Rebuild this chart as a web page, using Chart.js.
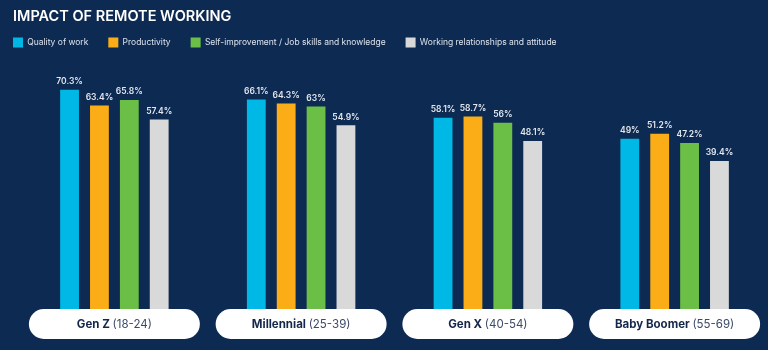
<!DOCTYPE html>
<html>
<head>
<meta charset="utf-8">
<script src="https://cdn.jsdelivr.net/npm/chart.js@4.4.1/dist/chart.umd.min.js"></script>
<style>
  html, body { margin: 0; padding: 0; background: #0d2a52; }
  #wrap { width: 768px; height: 350px; position: relative; }
</style>
</head>
<body>
<div id="wrap"><canvas id="chart"></canvas></div>
<script>
const groupNames = ['Gen Z', 'Millennial', 'Gen X', 'Baby Boomer'];
const ageRanges = ['(18-24)', '(25-39)', '(40-54)', '(55-69)'];

const seriesNames = ['Quality of work', 'Productivity', 'Self-improvement / Job skills and knowledge', 'Working relationships and attitude'];
const qualityOfWork = [70.3, 66.1, 58.1, 49];
const productivity = [63.4, 64.3, 58.7, 51.2];
const selfImprovement = [65.8, 63, 56, 47.2];
const relationships = [57.4, 54.9, 48.1, 39.4];
const seriesColors = ['#00b8e6', '#fbad18', '#6cbf46', '#d9d9d9'];

const FONT = 'Inter, "Noto Sans", sans-serif';

// value on top of each bar
const valueLabels = {
    id: 'valueLabels',
    afterDatasetsDraw(chart) {
        const ctx = chart.ctx;
        ctx.save();
        ctx.font = '600 8.5px ' + FONT;
        ctx.fillStyle = '#e4e8ee';
        ctx.textAlign = 'center';
        ctx.textBaseline = 'bottom';
        chart.data.datasets.forEach((ds, i) => {
            chart.getDatasetMeta(i).data.forEach((bar, j) => {
                ctx.fillText(ds.data[j] + '%', bar.x, bar.y - 4);
            });
        });
        ctx.restore();
    }
};

// white pill with the group name under each group
const groupPills = {
    id: 'groupPills',
    afterDatasetsDraw(chart) {
        const ctx = chart.ctx;
        const xs = chart.scales.x;
        const w = 171, h = 30, top = 309;
        ctx.save();
        groupNames.forEach((name, i) => {
            const cx = xs.getPixelForValue(i);
            ctx.beginPath();
            ctx.roundRect(cx - w / 2, top, w, h, h / 2);
            ctx.fillStyle = '#ffffff';
            ctx.fill();

            const boldFont = 'bold 11.5px ' + FONT;
            const normFont = '11.5px ' + FONT;
            ctx.font = boldFont;
            const w1 = ctx.measureText(name + ' ').width;
            ctx.font = normFont;
            const w2 = ctx.measureText(ageRanges[i]).width;
            let x = cx - (w1 + w2) / 2;
            ctx.textBaseline = 'middle';
            ctx.textAlign = 'left';
            ctx.font = boldFont;
            ctx.fillStyle = '#14264a';
            ctx.fillText(name + ' ', x, top + h / 2 + 0.5);
            ctx.font = normFont;
            ctx.fillStyle = '#3b4a66';
            ctx.fillText(ageRanges[i], x + w1, top + h / 2 + 0.5);
        });
        ctx.restore();
    }
};

// pull the legend row left/up so it lines up under the title
const legendShift = {
    id: 'legendShift',
    afterLayout(chart) {
        const lg = chart.legend;
        lg.left -= 20;
        lg.right -= 20;
        lg.top -= 18;
        lg.bottom -= 18;
    }
};

const allSeries = [qualityOfWork, productivity, selfImprovement, relationships];

new Chart(document.getElementById('chart'), {
    type: 'bar',
    data: {
        labels: groupNames.map((n, i) => n + ' ' + ageRanges[i]),
        datasets: allSeries.map((values, i) => ({
            label: seriesNames[i],
            data: values,
            base: -30,
            backgroundColor: seriesColors[i],
            borderWidth: 0,
            categoryPercentage: 0.64,
            barPercentage: 0.63
        }))
    },
    options: {
        responsive: true,
        maintainAspectRatio: false,
        animation: false,
        layout: { padding: { left: 13, right: 0, top: 2, bottom: 29 } },
        scales: {
            x: {
                display: false,
                grid: { display: false }
            },
            y: {
                min: -30,
                max: 76.5,
                display: true,
                grid: { display: false },
                border: { display: false },
                ticks: { display: false },
                afterFit: scale => { scale.width = 8; }
            }
        },
        plugins: {
            title: {
                display: true,
                text: 'IMPACT OF REMOTE WORKING',
                align: 'start',
                color: '#ffffff',
                font: { family: FONT, size: 14.5, weight: '600' },
                padding: { top: 6, bottom: 10 }
            },
            legend: {
                align: 'start',
                labels: {
                    boxWidth: 10,
                    boxHeight: 10,
                    padding: 20,
                    color: '#dde3ec',
                    font: { family: FONT, size: 8.5 }
                }
            },
            tooltip: { enabled: false }
        }
    },
    plugins: [valueLabels, groupPills, legendShift]
});
</script>
</body>
</html>
